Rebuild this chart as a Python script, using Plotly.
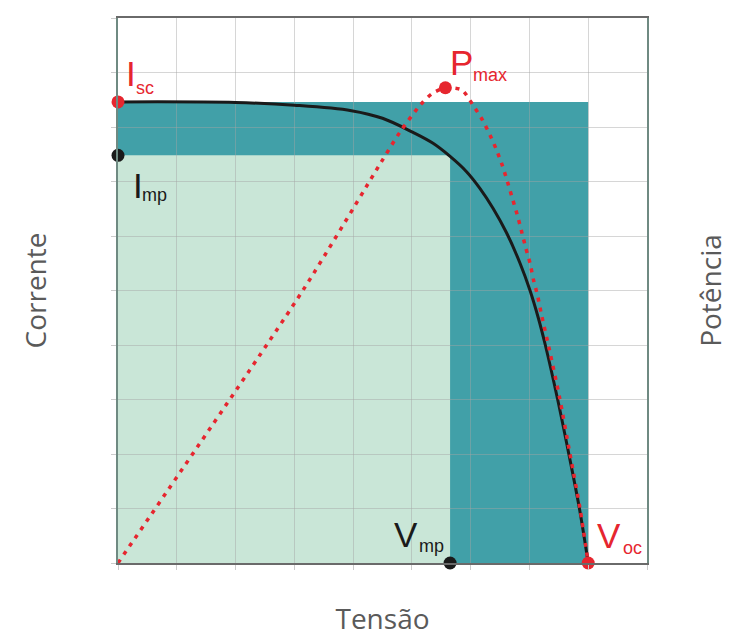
import plotly.graph_objects as go

# ---- data ----
iv_voltage = [0.0, 2.00, 3.00, 3.97, 4.50, 5.02, 5.36, 5.65, 5.93, 6.16, 6.38, 6.61, 6.84, 7.01, 7.15, 7.27, 7.48, 7.67, 7.85, 8.00]
iv_current = [8.46, 8.45, 8.40, 8.30, 8.16, 7.90, 7.70, 7.46, 7.18, 6.87, 6.51, 6.06, 5.50, 5.00, 4.50, 4.00, 3.00, 2.00, 1.00, 0.0]

pv_voltage = [0.0, 3.15, 4.48, 4.80, 5.14, 5.34, 5.57, 5.85, 6.04, 6.20, 6.33, 6.44, 6.54, 6.63, 6.71, 6.79, 6.86, 6.94, 7.01, 7.07, 7.14, 7.20, 7.33, 7.51, 7.69, 7.86, 8.00]
pv_power = [0.0, 5.01, 7.36, 7.91, 8.40, 8.61, 8.72, 8.68, 8.40, 8.13, 7.85, 7.58, 7.29, 6.98, 6.69, 6.40, 6.11, 5.77, 5.50, 5.19, 4.90, 4.58, 3.96, 3.05, 2.00, 1.00, 0.0]

isc = 8.46
imp = 7.48
vmp = 5.65
voc = 8.00
pmax_v = 5.57
pmax_p = 8.72

x_range = [0, 9]
y_range = [0, 10]

RED = "#e6262f"
BLACK = "#1a1a1a"
TEAL = "#41a0a8"
LIGHT = "#c9e6d7"
LABEL_FONT = "Liberation Sans"

fig = go.Figure()

# filled rectangles (from data values)
fig.add_shape(type="rect", xref="x", yref="y", x0=0, y0=0, x1=voc, y1=isc,
              fillcolor=TEAL, line=dict(width=0), layer="below")
fig.add_shape(type="rect", xref="x", yref="y", x0=0, y0=0, x1=vmp, y1=imp,
              fillcolor=LIGHT, line=dict(width=0), layer="below")

# power curve (dotted red)
fig.add_trace(go.Scatter(x=pv_voltage, y=pv_power, mode="lines", yaxis="y2",
                         line=dict(color=RED, width=3.5, dash="4px,6px", shape="spline", smoothing=0.7),
                         hoverinfo="skip", showlegend=False))
# I-V curve
fig.add_trace(go.Scatter(x=iv_voltage, y=iv_current, mode="lines",
                         line=dict(color=BLACK, width=3, shape="spline", smoothing=1.0),
                         hoverinfo="skip", showlegend=False))

# key points
fig.add_trace(go.Scatter(x=[0, voc], y=[isc, 0], mode="markers", cliponaxis=False,
                         marker=dict(color=RED, size=13), showlegend=False, hoverinfo="skip"))
fig.add_trace(go.Scatter(x=[0, vmp], y=[imp, 0], mode="markers", cliponaxis=False,
                         marker=dict(color=BLACK, size=13), showlegend=False, hoverinfo="skip"))
fig.add_trace(go.Scatter(x=[pmax_v], y=[pmax_p], mode="markers", cliponaxis=False, yaxis="y2",
                         marker=dict(color=RED, size=13), showlegend=False, hoverinfo="skip"))


def label(x, y, main, sub, color, dx, dy, sdx, sdy, yref="y"):
    fig.add_annotation(x=x, y=y, xref="x", yref=yref, text=main, showarrow=False,
                       xanchor="center", yanchor="middle", xshift=dx, yshift=dy,
                       font=dict(family=LABEL_FONT, size=35, color=color))
    fig.add_annotation(x=x, y=y, xref="x", yref=yref, text=sub, showarrow=False,
                       xanchor="left", yanchor="middle", xshift=sdx, yshift=sdy,
                       font=dict(family=LABEL_FONT, size=18, color=color))


label(0, isc, "I", "sc", RED, 12.5, 28.5, 16, 13.6)
label(0, imp, "I", "mp", BLACK, 19.5, -30.5, 22, -39.4)
label(pmax_v, pmax_p, "P", "max", RED, 16, 25.5, 26, 12.6, yref="y2")
label(vmp, 0, "V", "mp", BLACK, -44.5, 28.5, -33, 16.6)
label(voc, 0, "V", "oc", RED, 20.5, 27.5, 33, 15)

GRID = "rgba(165,165,165,0.45)"
title_font = dict(family="Open Sans", size=28, color="#5a5a5a")

fig.update_layout(
    width=730, height=629,
    margin=dict(l=110, r=91, t=10, b=74, autoexpand=False),
    paper_bgcolor="white", plot_bgcolor="white",
    showlegend=False,
    xaxis=dict(range=x_range, dtick=1, showgrid=True, gridcolor=GRID, gridwidth=1,
               showticklabels=False, ticks="outside", ticklen=5, tickcolor="#cccccc",
               showline=True, linecolor="#6a6a6a", linewidth=1.5, mirror=True,
               zeroline=False, fixedrange=True, automargin=False,
               title=dict(text="Tensão", font=title_font, standoff=45)),
    yaxis=dict(range=y_range, dtick=1, showgrid=True, gridcolor=GRID, gridwidth=1,
               showticklabels=False, ticks="outside", ticklen=5, tickcolor="#cccccc",
               showline=True, linecolor="#6f8a82", linewidth=1.5, mirror=True,
               zeroline=False, fixedrange=True, automargin=False,
               title=dict(text="Corrente", font=title_font, standoff=56)),
    yaxis2=dict(range=y_range, overlaying="y", side="right", showgrid=False,
                showticklabels=False, ticks="", showline=False, zeroline=False,
                fixedrange=True, automargin=False,
                title=dict(text="Potência", font=title_font, standoff=54)),
)

fig.write_html("out.html")
